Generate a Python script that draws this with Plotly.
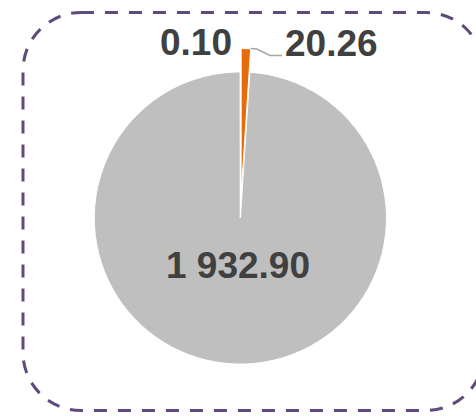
import plotly.graph_objects as go

labels = ["B", "A", "C"]
values = [20.26, 1932.90, 0.10]
text_labels = ["20.26", "1 932.90", "0.10"]
colors = ["#E46C0A", "#BFBFBF", "#4F81BD"]
pulls = [0.16, 0, 0]

W, H = 476, 416
def px(x):
    return x / W
def py(y):
    return 1 - y / H

fig = go.Figure()
fig.add_trace(go.Pie(
    labels=labels,
    values=values,
    textinfo="none",
    sort=False,
    direction="clockwise",
    rotation=0,
    pull=pulls,
    automargin=False,
    marker=dict(colors=colors, line=dict(color="white", width=1)),
    showlegend=False,
    hoverinfo="skip",
    domain=dict(x=[0.149, 0.861], y=[0.0685, 0.8835]),
))

# data labels (text from the data list)
label_pos = [(331, 44), (238, 265), (196, 43)]
for txt, (lx, ly) in zip(text_labels, label_pos):
    fig.add_annotation(text=txt, x=px(lx), y=py(ly), xref="paper", yref="paper",
                       xanchor="center", yanchor="middle", showarrow=False,
                       font=dict(family="Liberation Sans, Arial", size=37,
                                 color="#404040", weight="bold"))

# leader line for the 20.26 label
lead = [(250.7, 48.5), (256.7, 49), (270, 55.5), (282, 55.5)]
lp = "M " + " L ".join(f"{px(a)},{py(b)}" for a, b in lead)
fig.add_shape(type="path", path=lp, xref="paper", yref="paper",
              line=dict(color="#A6A6A6", width=1.5))

# dashed rounded frame
x0, x1, y0, y1, r = 23, 484, 12.5, 410.5, 58
k = 0.5523
path = (f"M {px(x0+r)},{py(y0)} L {px(x1-r)},{py(y0)} "
        f"C {px(x1-r+k*r)},{py(y0)} {px(x1)},{py(y0+r-k*r)} {px(x1)},{py(y0+r)} "
        f"L {px(x1)},{py(y1-r)} "
        f"C {px(x1)},{py(y1-r+k*r)} {px(x1-r+k*r)},{py(y1)} {px(x1-r)},{py(y1)} "
        f"L {px(x0+r)},{py(y1)} "
        f"C {px(x0+r-k*r)},{py(y1)} {px(x0)},{py(y1-r+k*r)} {px(x0)},{py(y1-r)} "
        f"L {px(x0)},{py(y0+r)} "
        f"C {px(x0)},{py(y0+r-k*r)} {px(x0+r-k*r)},{py(y0)} {px(x0+r)},{py(y0)} Z")
fig.add_shape(type="path", path=path, xref="paper", yref="paper",
              line=dict(color="#604A7B", width=3, dash="13px,11px"))

fig.update_layout(
    width=W, height=H,
    margin=dict(l=0, r=0, t=0, b=0),
    paper_bgcolor="white",
    plot_bgcolor="white",
)
fig.write_html("out.html", config={"displayModeBar": False},
               post_script="document.body.style.margin='0';")
